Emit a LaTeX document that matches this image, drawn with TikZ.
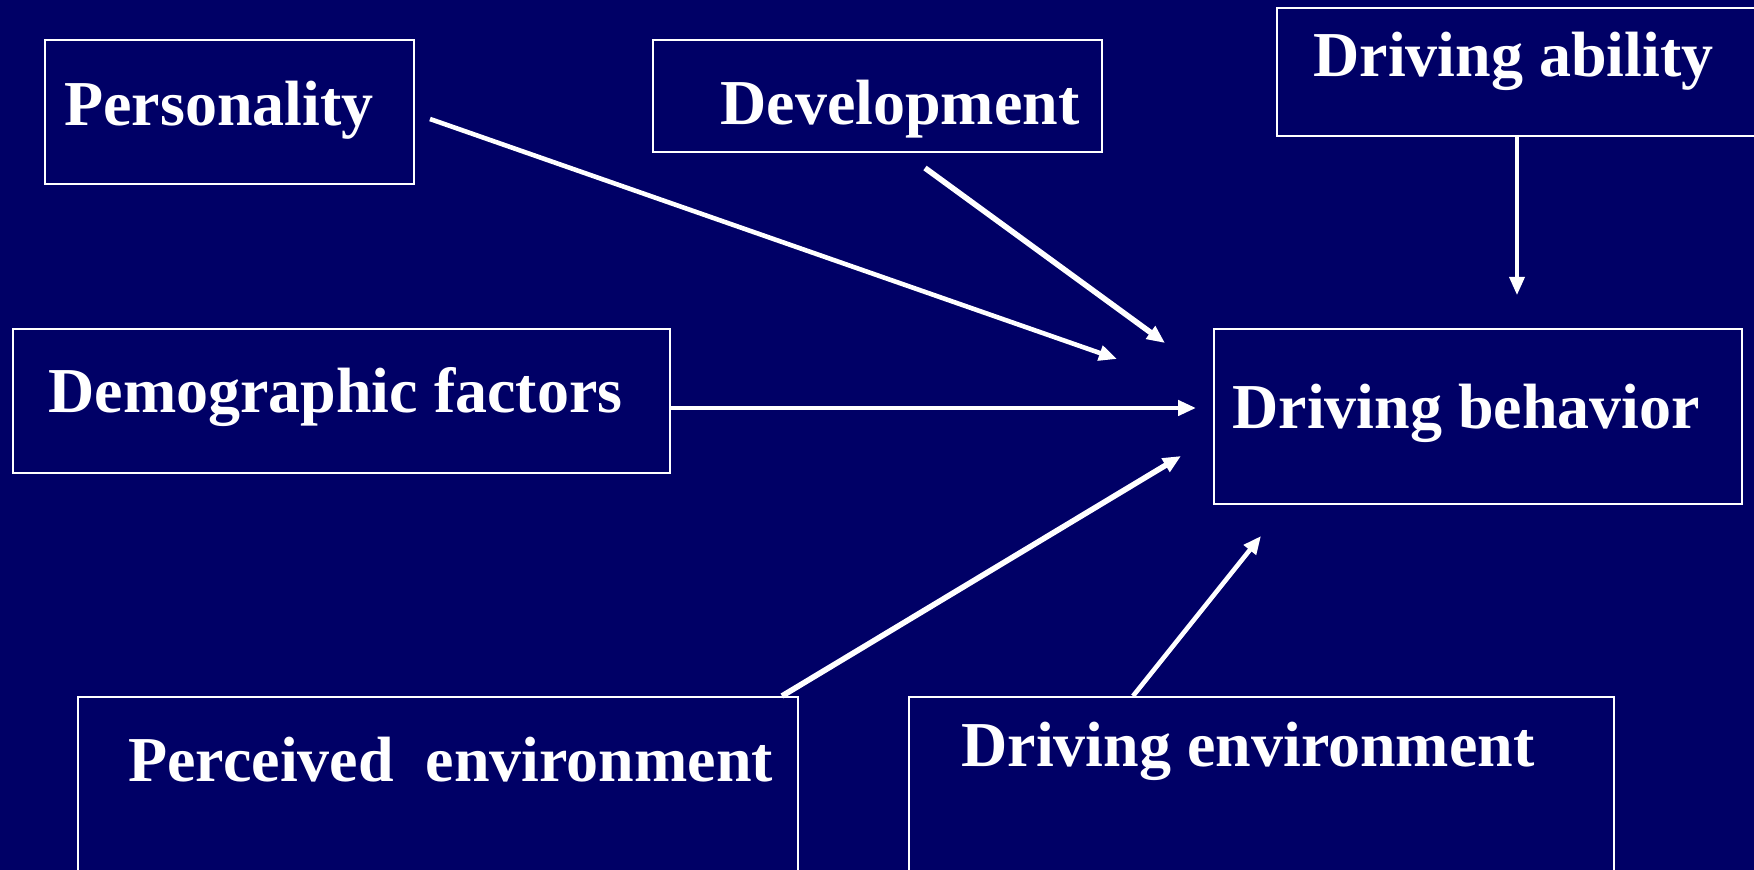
\documentclass[tikz,border=0pt]{standalone}
\usepackage{fontspec}
\setmainfont{Liberation Serif}
\usetikzlibrary{arrows.meta}
\definecolor{navybg}{RGB}{0,0,102}
\begin{document}
\begin{tikzpicture}[x=0.5pt,y=-0.5pt,
  box/.style={draw=white,line width=1pt,inner sep=0pt,anchor=north west},
  lbl/.style={text=white,inner sep=0pt,anchor=base west,font=\fontsize{32pt}{38pt}\selectfont\bfseries},
  conn/.style={draw=white,-{Triangle[length=9pt,width=7.5pt]}}]
\clip (0,0) rectangle (1754,870);
\fill[navybg] (0,0) rectangle (1754,870);
% boxes
\node[box,minimum width=184.5pt,minimum height=72pt] (pbox) at (44,39) {};
\node[box,minimum width=224.5pt,minimum height=56pt] (devbox) at (652,39) {};
\node[box,minimum width=242pt,minimum height=64pt] (abox) at (1276,7) {};
\node[box,minimum width=328.5pt,minimum height=72pt] (dembox) at (12,328) {};
\node[box,minimum width=264pt,minimum height=87.5pt] (bbox) at (1213,328) {};
\node[box,minimum width=360pt,minimum height=102pt] (perbox) at (77,696) {};
\node[box,minimum width=352.5pt,minimum height=102pt] (envbox) at (908,696) {};
% labels
\node[lbl] (ptxt) at (64,126) {Personality};
\node[lbl] (devtxt) at (720,125) {Development};
\node[lbl] (atxt) at (1313,77) {Driving ability};
\node[lbl] (demtxt) at (48,413) {Demographic factors};
\node[lbl] (btxt) at (1232,429) {Driving behavior};
\node[lbl] (pertxt) at (128,781) {Perceived\ \ environment};
\node[lbl] (envtxt) at (961,766) {Driving environment};
% connector end points
\coordinate (p1) at (430,119);
\coordinate (p2) at (1117,359);
\coordinate (d1) at (925,168);
\coordinate (d2) at (1165,343);
\coordinate (a1) at (1517,135);
\coordinate (a2) at (1517,295);
\coordinate (m1) at (669,408);
\coordinate (m2) at (1196,408);
\coordinate (e1) at (782,696);
\coordinate (e2) at (1181,456);
\coordinate (v1) at (1133,696);
\coordinate (v2) at (1261,536);
% connectors
\draw[conn,line width=2.3pt] (p1) -- (p2);
\draw[conn,line width=2.8pt] (d1) -- (d2);
\draw[conn,line width=1.7pt] (a1) -- (a2);
\draw[conn,line width=2.2pt] (m1) -- (m2);
\draw[conn,line width=2.8pt] (e1) -- (e2);
\draw[conn,line width=2.3pt] (v1) -- (v2);
\end{tikzpicture}
\end{document}
